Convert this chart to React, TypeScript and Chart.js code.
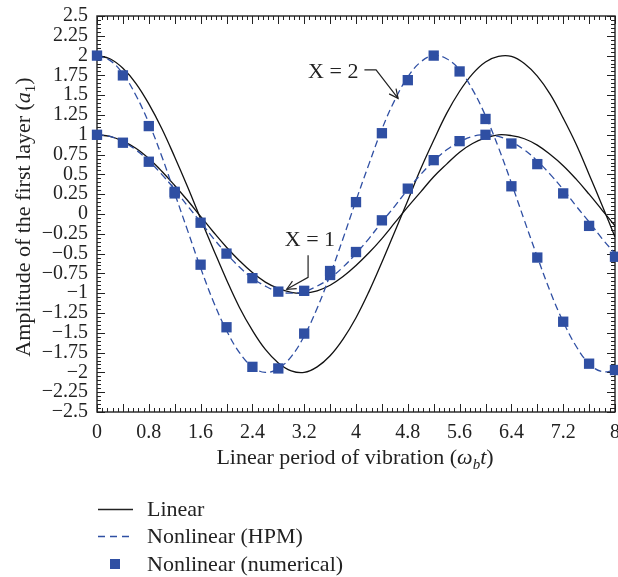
import React, { useEffect, useRef } from "react";
import { Chart, registerables } from "chart.js";

Chart.register(...registerables);

// ---- Data ----
const curveX = [
  0, 0.2, 0.4, 0.6, 0.8, 1.0, 1.2, 1.4, 1.6, 1.8, 2.0, 2.2, 2.4, 2.6, 2.8, 3.0, 3.2, 3.4, 3.6, 3.8, 4.0,
  4.2, 4.4, 4.6, 4.8, 5.0, 5.2, 5.4, 5.6, 5.8, 6.0, 6.2, 6.4, 6.6, 6.8, 7.0, 7.2, 7.4, 7.6, 7.8, 8.0,
];
const linearX1 = [
  1.0, 0.98, 0.92, 0.83, 0.7, 0.54, 0.36, 0.17, -0.03, -0.23, -0.42, -0.59, -0.74, -0.86, -0.94, -0.99, -1.0,
  -0.97, -0.9, -0.79, -0.65, -0.49, -0.31, -0.11, 0.09, 0.28, 0.47, 0.63, 0.78, 0.89, 0.96, 1.0, 0.99, 0.95,
  0.87, 0.75, 0.61, 0.44, 0.25, 0.05, -0.15,
];
const linearX2 = [
  2.0, 1.96, 1.84, 1.65, 1.39, 1.08, 0.72, 0.34, -0.06, -0.45, -0.83, -1.18, -1.47, -1.71, -1.88, -1.98, -2.0,
  -1.93, -1.79, -1.58, -1.31, -0.98, -0.61, -0.22, 0.17, 0.57, 0.93, 1.27, 1.55, 1.77, 1.92, 1.99, 1.99, 1.9,
  1.74, 1.51, 1.21, 0.88, 0.5, 0.11, -0.29,
];
const hpmX1 = [
  1.0, 0.98, 0.91, 0.81, 0.67, 0.5, 0.31, 0.1, -0.1, -0.31, -0.5, -0.67, -0.81, -0.91, -0.98, -1.0, -0.98,
  -0.91, -0.81, -0.67, -0.5, -0.31, -0.1, 0.1, 0.31, 0.5, 0.67, 0.81, 0.91, 0.98, 1.0, 0.98, 0.91, 0.81, 0.67,
  0.5, 0.31, 0.1, -0.1, -0.31, -0.5,
];
const hpmX2 = [
  2.0, 1.94, 1.77, 1.5, 1.15, 0.73, 0.26, -0.21, -0.68, -1.11, -1.47, -1.75, -1.93, -2.0, -1.95, -1.8, -1.54,
  -1.19, -0.77, -0.31, 0.17, 0.63, 1.07, 1.44, 1.73, 1.92, 2.0, 1.96, 1.82, 1.57, 1.24, 0.84, 0.39, -0.08,
  -0.54, -0.98, -1.36, -1.67, -1.89, -1.99, -1.97,
];
const numX = [0, 0.4, 0.8, 1.2, 1.6, 2.0, 2.4, 2.8, 3.2, 3.6, 4.0, 4.4, 4.8, 5.2, 5.6, 6.0, 6.4, 6.8, 7.2, 7.6, 8.0];
const numX1 = [
  1.0, 0.9, 0.66, 0.28, -0.11, -0.5, -0.81, -0.98, -0.97, -0.77, -0.48, -0.08, 0.32, 0.68, 0.92, 1.0, 0.89,
  0.63, 0.26, -0.15, -0.54,
];
const numX2 = [
  2.0, 1.75, 1.11, 0.26, -0.64, -1.43, -1.93, -1.95, -1.51, -0.72, 0.15, 1.02, 1.69, 2.0, 1.8, 1.2, 0.35,
  -0.55, -1.36, -1.89, -1.97,
];
const xTickValues = [0, 0.8, 1.6, 2.4, 3.2, 4, 4.8, 5.6, 6.4, 7.2, 8];
const yTickValues = [
  -2.5, -2.25, -2, -1.75, -1.5, -1.25, -1, -0.75, -0.5, -0.25, 0, 0.25, 0.5, 0.75, 1, 1.25, 1.5, 1.75, 2, 2.25, 2.5,
];
const legendLabels = ["Linear", "Nonlinear (HPM)", "Nonlinear (numerical)"];
const annotationLabels = ["X = 2", "X = 1"];

const FONT = "'Liberation Serif', 'Times New Roman', serif";
const INK = "#222";
const BLUE = "#2f4fa3";
const CANVAS_W = 640;
const CANVAS_H = 577;

const fmt = (v: number) => {
  const s = String(Number(v.toFixed(2)));
  return s.startsWith("-") ? "\u2212" + s.slice(1) : s;
};

const pts = (xs: number[], ys: number[]) => xs.map((x, i) => ({ x, y: ys[i] }));

type Seg = { t: string; italic?: boolean; sub?: boolean };

function drawSegs(ctx: CanvasRenderingContext2D, segs: Seg[], size: number, cx: number, cy: number) {
  const fontFor = (s: Seg) => `${s.italic ? "italic " : ""}${s.sub ? Math.round(size * 0.68) : size}px ${FONT}`;
  let total = 0;
  const widths = segs.map((s) => {
    ctx.font = fontFor(s);
    const w = ctx.measureText(s.t).width;
    total += w;
    return w;
  });
  let x = cx - total / 2;
  ctx.textBaseline = "alphabetic";
  ctx.textAlign = "left";
  segs.forEach((s, i) => {
    ctx.font = fontFor(s);
    ctx.fillText(s.t, x, cy + size * 0.33 + (s.sub ? size * 0.2 : 0));
    x += widths[i];
  });
}

function arrowHead(ctx: CanvasRenderingContext2D, fx: number, fy: number, tx: number, ty: number) {
  const ang = Math.atan2(ty - fy, tx - fx);
  const L = 10;
  const spread = 0.45;
  ctx.beginPath();
  ctx.moveTo(tx - L * Math.cos(ang - spread), ty - L * Math.sin(ang - spread));
  ctx.lineTo(tx, ty);
  ctx.lineTo(tx - L * Math.cos(ang + spread), ty - L * Math.sin(ang + spread));
  ctx.stroke();
}

const framePlugin = {
  id: "frameTicks",
  beforeDatasetsDraw(chart: any) {
    const { ctx, chartArea: a, scales } = chart;
    const x = scales.x;
    const y = scales.y;
    ctx.save();
    ctx.strokeStyle = INK;
    ctx.lineWidth = 1;
    ctx.beginPath();
    for (let i = 0; i <= 100; i++) {
      const px = Math.round(x.getPixelForValue(i * 0.08)) + 0.5;
      const len = i % 5 === 0 ? 8 : 4;
      ctx.moveTo(px, a.bottom);
      ctx.lineTo(px, a.bottom - len);
      ctx.moveTo(px, a.top);
      ctx.lineTo(px, a.top + len);
    }
    for (let i = 0; i <= 100; i++) {
      const py = Math.round(y.getPixelForValue(-2.5 + i * 0.05)) + 0.5;
      const len = i % 5 === 0 ? 8 : 4;
      ctx.moveTo(a.left, py);
      ctx.lineTo(a.left + len, py);
      ctx.moveTo(a.right, py);
      ctx.lineTo(a.right - len, py);
    }
    ctx.stroke();
    ctx.lineWidth = 1.4;
    ctx.strokeRect(a.left, a.top, a.right - a.left, a.bottom - a.top);
    ctx.restore();
  },
  afterDraw(chart: any) {
    const { ctx, scales } = chart;
    const x = scales.x;
    const y = scales.y;
    ctx.save();
    ctx.fillStyle = INK;
    ctx.strokeStyle = INK;

    // Axis titles
    drawSegs(
      ctx,
      [
        { t: "Linear period of vibration (" },
        { t: "\u03c9", italic: true },
        { t: "b", italic: true, sub: true },
        { t: "t", italic: true },
        { t: ")" },
      ],
      22,
      355,
      457
    );
    ctx.save();
    ctx.translate(23, 217);
    ctx.rotate(-Math.PI / 2);
    drawSegs(
      ctx,
      [{ t: "Amplitude of the first layer (" }, { t: "a", italic: true }, { t: "1", sub: true }, { t: ")" }],
      22,
      0,
      0
    );
    ctx.restore();

    // Annotations
    const P = (vx: number, vy: number) => [x.getPixelForValue(vx), y.getPixelForValue(vy)];
    ctx.font = `22px ${FONT}`;
    ctx.textAlign = "left";
    ctx.textBaseline = "middle";
    ctx.lineWidth = 1.2;
    {
      const [tx, ty] = P(3.26, 1.79);
      ctx.fillText(annotationLabels[0], tx, ty);
      const [x1, y1] = P(4.13, 1.82);
      const [x2, y2] = P(4.31, 1.82);
      const [x3, y3] = P(4.65, 1.46);
      ctx.beginPath();
      ctx.moveTo(x1, y1);
      ctx.lineTo(x2, y2);
      ctx.lineTo(x3, y3);
      ctx.stroke();
      arrowHead(ctx, x2, y2, x3, y3);
    }
    {
      const [tx, ty] = P(2.9, -0.33);
      ctx.fillText(annotationLabels[1], tx, ty);
      const [x1, y1] = P(3.26, -0.52);
      const [x2, y2] = P(3.26, -0.8);
      const [x3, y3] = P(2.93, -0.95);
      ctx.beginPath();
      ctx.moveTo(x1, y1);
      ctx.lineTo(x2, y2);
      ctx.lineTo(x3, y3);
      ctx.stroke();
      arrowHead(ctx, x2, y2, x3, y3);
    }

    // Legend
    const lx0 = 98;
    const lx1 = 133;
    const tx = 147;
    const rows = [509, 536, 564];
    ctx.lineWidth = 1.3;
    ctx.strokeStyle = INK;
    ctx.beginPath();
    ctx.moveTo(lx0, rows[0] + 0.5);
    ctx.lineTo(lx1, rows[0] + 0.5);
    ctx.stroke();
    ctx.strokeStyle = BLUE;
    ctx.setLineDash([7, 5]);
    ctx.beginPath();
    ctx.moveTo(lx0, rows[1] + 0.5);
    ctx.lineTo(lx1, rows[1] + 0.5);
    ctx.stroke();
    ctx.setLineDash([]);
    ctx.fillStyle = BLUE;
    ctx.fillRect(110, rows[2] - 5, 10, 10);
    ctx.fillStyle = INK;
    ctx.font = `22px ${FONT}`;
    ctx.textBaseline = "middle";
    legendLabels.forEach((l, i) => ctx.fillText(l, tx, rows[i] + 1));
    ctx.restore();
  },
};

export default function App() {
  const ref = useRef<HTMLCanvasElement | null>(null);
  useEffect(() => {
    if (!ref.current) return;
    const lineBase = { pointRadius: 0, borderWidth: 1.3, tension: 0.4, fill: false };
    const sq = {
      showLine: false,
      pointStyle: "rect",
      pointRadius: 7.3,
      pointBorderWidth: 0,
      pointBackgroundColor: BLUE,
      backgroundColor: BLUE,
      borderColor: BLUE,
      clip: false,
    };
    const chart = new Chart(ref.current, {
      type: "line",
      data: {
        datasets: [
          { label: "Nonlinear (numerical) X=2", data: pts(numX, numX2), ...sq },
          { label: "Nonlinear (numerical) X=1", data: pts(numX, numX1), ...sq },
          { label: "Nonlinear (HPM) X=2", data: pts(curveX, hpmX2), borderColor: BLUE, borderDash: [7, 4], ...lineBase },
          { label: "Nonlinear (HPM) X=1", data: pts(curveX, hpmX1), borderColor: BLUE, borderDash: [7, 4], ...lineBase },
          { label: "Linear X=2", data: pts(curveX, linearX2), borderColor: "#111", ...lineBase },
          { label: "Linear X=1", data: pts(curveX, linearX1), borderColor: "#111", ...lineBase },
        ] as any,
      },
      options: {
        responsive: false,
        animation: false,
        devicePixelRatio: 1,
        layout: { padding: { left: 0, top: 16, right: CANVAS_W - 615, bottom: 125 } },
        plugins: { legend: { display: false }, tooltip: { enabled: false } },
        scales: {
          x: {
            type: "linear",
            min: 0,
            max: 8,
            grid: { display: false, drawTicks: false },
            border: { display: false },
            afterBuildTicks: (s: any) => {
              s.ticks = xTickValues.map((v) => ({ value: v }));
            },
            afterFit: (s: any) => {
              s.height = 40;
            },
            ticks: {
              autoSkip: false,
              maxRotation: 0,
              padding: 9,
              color: INK,
              font: { family: FONT, size: 20 },
              callback: (v: any) => fmt(Number(v)),
            },
          },
          y: {
            type: "linear",
            min: -2.5,
            max: 2.5,
            grid: { display: false, drawTicks: false },
            border: { display: false },
            afterBuildTicks: (s: any) => {
              s.ticks = yTickValues.map((v) => ({ value: v }));
            },
            afterFit: (s: any) => {
              s.width = 97;
              s.paddingTop = 0;
              s.paddingBottom = 0;
            },
            ticks: {
              autoSkip: false,
              padding: 9,
              color: INK,
              font: { family: FONT, size: 20 },
              callback: (v: any) => fmt(Number(v)),
            },
          },
        },
      },
      plugins: [framePlugin],
    });
    return () => chart.destroy();
  }, []);
  return (
    <div style={{ position: "fixed", left: 0, top: 0, width: 618, height: 577, overflow: "hidden", background: "#fff" }}>
      <canvas
        ref={ref}
        width={CANVAS_W}
        height={CANVAS_H}
        style={{ width: CANVAS_W, height: CANVAS_H, display: "block" }}
      />
    </div>
  );
}
